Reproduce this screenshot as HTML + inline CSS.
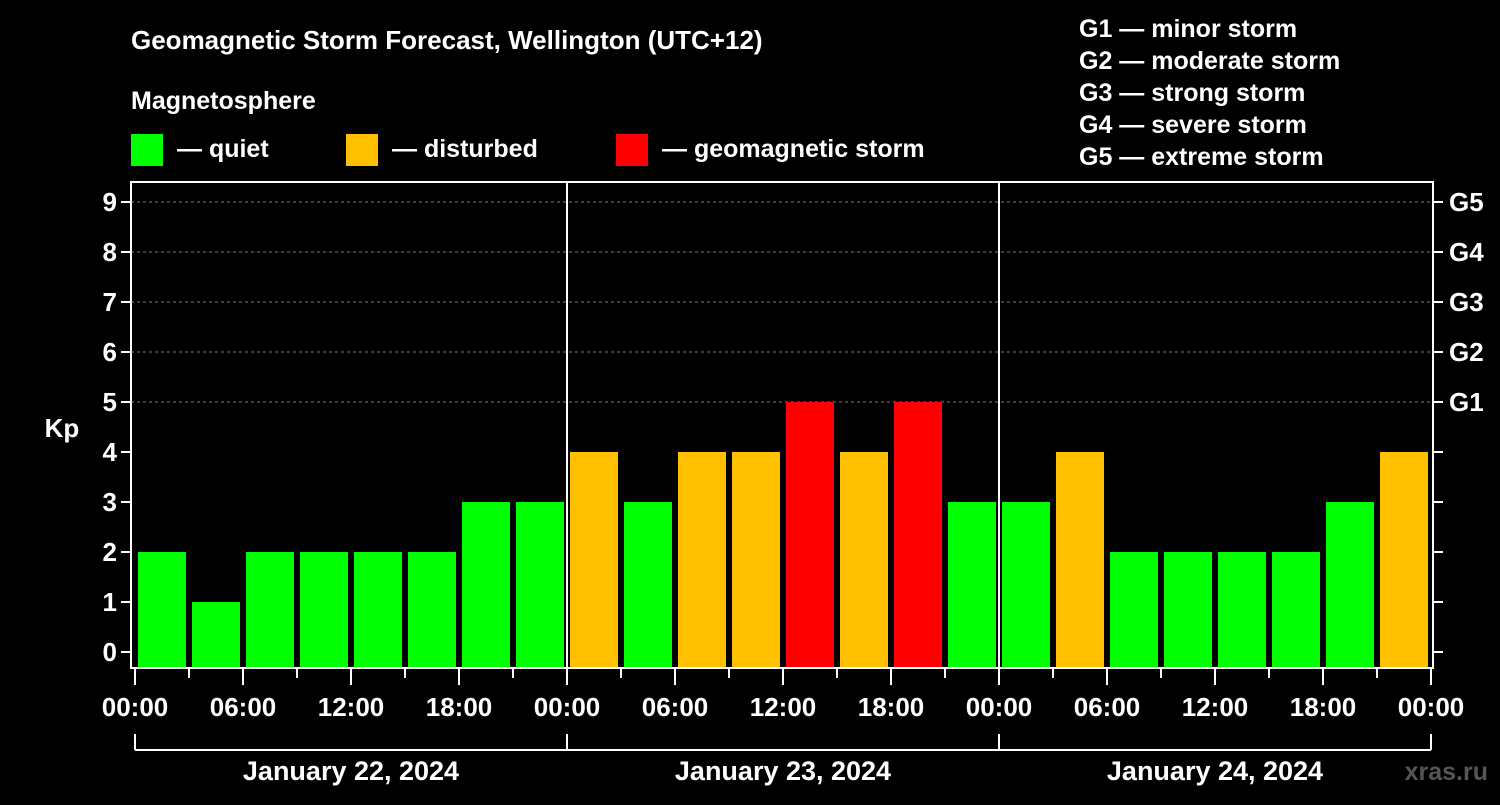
<!DOCTYPE html>
<html><head><meta charset="utf-8"><style>
body{margin:0;background:#000;width:1500px;height:800px;overflow:hidden;font-family:"Liberation Sans",Arial,sans-serif;}
svg text{font-family:"Liberation Sans",Arial,sans-serif;font-weight:bold;fill:#fff;}
</style></head><body>
<svg id="c" width="1500" height="800">
<text x="131" y="49" font-size="26">Geomagnetic Storm Forecast, Wellington (UTC+12)</text>
<text x="131" y="109" font-size="25">Magnetosphere</text>
<g><rect x="131" y="134" width="32" height="32" fill="#00ff00"/><text x="177" y="157" font-size="25">— quiet</text></g>
<g><rect x="346" y="134" width="32" height="32" fill="#ffc000"/><text x="392" y="157" font-size="25">— disturbed</text></g>
<g><rect x="616" y="134" width="32" height="32" fill="#ff0000"/><text x="662" y="157" font-size="25">— geomagnetic storm</text></g>
<g font-size="25">
<text x="1079" y="37">G1 — minor storm</text><text x="1079" y="69">G2 — moderate storm</text><text x="1079" y="101">G3 — strong storm</text><text x="1079" y="133">G4 — severe storm</text><text x="1079" y="165">G5 — extreme storm</text></g>
<text x="62" y="437" font-size="26" text-anchor="middle">Kp</text>
<text x="1488" y="780" font-size="25" fill="#555" style="fill:#555" text-anchor="end">xras.ru</text>
<g id="grid"></g><g id="bars"></g><g id="axes"></g>
</svg>
<script>
const categories=[];for(let i=0;i<24;i++)categories.push(i);
const kpValues=[2,1,2,2,2,2,3,3, 4,3,4,4,5,4,5,3, 3,4,2,2,2,2,3,4];
const yTicks=[0,1,2,3,4,5,6,7,8,9];
const gLabels=["G1","G2","G3","G4","G5"];
const xLabels=["00:00","06:00","12:00","18:00","00:00","06:00","12:00","18:00","00:00","06:00","12:00","18:00","00:00"];
const dayLabels=["January 22, 2024","January 23, 2024","January 24, 2024"];
const NS="http://www.w3.org/2000/svg";
const X0=135,STEP=54,Y0=652,UNIT=50,L=131,R=1433,T=182,B=668;
const xs=i=>X0+STEP*i, ys=v=>Y0-UNIT*v;
function mk(t,a,p){const e=document.createElementNS(NS,t);for(const k in a)e.setAttribute(k,a[k]);p.appendChild(e);return e;}
const grid=document.getElementById('grid'),bars=document.getElementById('bars'),axes=document.getElementById('axes');
yTicks.forEach(v=>{
 if(v>=5){const g=mk('line',{x1:L,x2:R,y1:ys(v),y2:ys(v),stroke:'#777','stroke-dasharray':'3,3'},grid);
 
 }
 const t=mk('line',{x1:L-10,x2:L,y1:ys(v),y2:ys(v),stroke:'#fff','stroke-width':2},axes);
 
 
 const t2=mk('line',{x1:R,x2:R+10,y1:ys(v),y2:ys(v),stroke:'#fff','stroke-width':2},axes);
 
 
 const l=mk('text',{x:L-14,y:ys(v)+9,'font-size':26,'text-anchor':'end'},axes);l.textContent=v;
 
 
});
gLabels.forEach((g,i)=>{const l=mk('text',{x:R+16,y:ys(5+i)+9,'font-size':26},axes);l.textContent=g;
 
 });
kpValues.forEach((v,i)=>{
 const c=v>=5?'#ff0000':v>=4?'#ffc000':'#00ff00';
 const r=mk('rect',{x:xs(i)+3,y:ys(v),width:STEP-6,height:B-ys(v),fill:c},bars);
 
 
});
const fr=mk('rect',{x:L,y:T,width:R-L,height:B-T,fill:'none',stroke:'#fff','stroke-width':2},axes);


[1,2].forEach(d=>{const l=mk('line',{x1:xs(8*d),x2:xs(8*d),y1:T,y2:B,stroke:'#fff','stroke-width':2},axes);
 
 });
for(let i=0;i<=24;i++){const maj=i%2==0;
 const t=mk('line',{x1:xs(i),x2:xs(i),y1:B,y2:B+(maj?17:10),stroke:'#fff','stroke-width':2},axes);
 
 }
xLabels.forEach((s,i)=>{const l=mk('text',{x:xs(2*i),y:716,'font-size':26,'text-anchor':'middle'},axes);l.textContent=s;
 
 });
const br=mk('line',{x1:xs(0),x2:xs(24),y1:750,y2:750,stroke:'#fff','stroke-width':2},axes);


for(let d=0;d<=3;d++){const l=mk('line',{x1:xs(8*d),x2:xs(8*d),y1:734,y2:750,stroke:'#fff','stroke-width':2},axes);
 
 }
dayLabels.forEach((s,d)=>{const l=mk('text',{x:xs(8*d+4),y:780,'font-size':27,'text-anchor':'middle'},axes);l.textContent=s;
 
 });
</script>
</body></html>
